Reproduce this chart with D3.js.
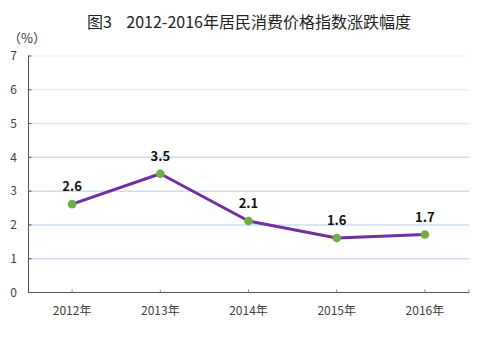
<!DOCTYPE html>
<html><head><meta charset="utf-8">
<script src="https://cdn.jsdelivr.net/npm/d3@7"></script>
<style>body{margin:0;background:#fff}svg{display:block}</style>
</head><body>
<svg id="c" width="493" height="342"></svg>
<script>
const categories = ["2012年","2013年","2014年","2015年","2016年"];
const values = [2.6, 3.5, 2.1, 1.6, 1.7];
const yTicks = [0,1,2,3,4,5,6,7];
const title = "图3\u00a0\u00a0\u00a0 2012-2016年居民消费价格指数涨跌幅度";
const unit = "（%）";

const svg = d3.select("#c");
const font = "'Noto Sans CJK SC', 'Liberation Sans', sans-serif";
const x = d3.scaleBand().domain(categories).range([28, 469]);
const y = d3.scaleLinear().domain([0, 7]).range([292, 55.5]);

svg.append("text").attr("x", 249).attr("y", 28).attr("text-anchor","middle")
  .attr("font-family", font).attr("font-size", 16).attr("fill","#222")
  .style("white-space","pre").text(title);
svg.append("text").attr("x", 8).attr("y", 43).attr("font-family", font)
  .attr("font-size", 13).attr("fill","#333").text(unit);

// gridlines
const gridColor = v => v >= 7 ? "#f1f5fa" : v >= 6 ? "#e6eef7" : v>=5 ? "#dfe9f5" : "#cddcef";
svg.append("g").selectAll("line").data(yTicks.filter(d=>d>0)).join("line")
  .attr("x1", 28).attr("x2", 469).attr("y1", d=>y(d)+0.5).attr("y2", d=>y(d)+0.5)
  .attr("stroke", gridColor).attr("stroke-width", 1.5);

// y axis
const yAxis = d3.axisRight(y).tickValues(yTicks).tickSize(3).tickFormat(d3.format("d"));
const gy = svg.append("g").attr("transform","translate(28.5,0)").call(yAxis);
gy.select(".domain").attr("stroke","#555").attr("d", `M0,${y(7)}V${y(0)}`);
gy.selectAll(".tick line").attr("stroke","#555");
gy.selectAll(".tick text").attr("x", -15).attr("text-anchor","middle").attr("dy","0.35em")
  .attr("font-family", font).attr("font-size", 12).attr("fill","#404040");

// x axis
const gx = svg.append("g").attr("transform","translate(0,292.5)")
  .call(d3.axisTop(x).tickSize(3).tickSizeOuter(0));
gx.select(".domain").attr("stroke","#555").attr("d","M28,0H469");
gx.selectAll(".tick line").attr("stroke","#888");
gx.selectAll(".tick text").attr("y", 22).attr("dy","0").attr("font-family", font)
  .attr("font-size", 12).attr("fill","#404040");
svg.append("line").attr("x1",469).attr("x2",469).attr("y1",289.5).attr("y2",292.5).attr("stroke","#888");

// line
const cx = (d,i) => x(categories[i]) + x.bandwidth()/2;
const line = d3.line().x((d,i)=>cx(d,i)).y(d=>y(d));
svg.append("path").datum(values).attr("d", line).attr("fill","none")
  .attr("stroke","#7030a0").attr("stroke-width", 3).attr("stroke-linejoin","round");
svg.append("g").selectAll("circle").data(values).join("circle")
  .attr("cx", cx).attr("cy", d=>y(d)).attr("r", 4.3).attr("fill","#70ad47");
svg.append("g").selectAll("text").data(values).join("text")
  .attr("x", cx).attr("y", d=>y(d)-13).attr("text-anchor","middle")
  .attr("font-family", font).attr("font-size", 13).attr("font-weight","bold").attr("fill","#111")
  .text(d=>d.toFixed(1));
</script>
</body></html>
